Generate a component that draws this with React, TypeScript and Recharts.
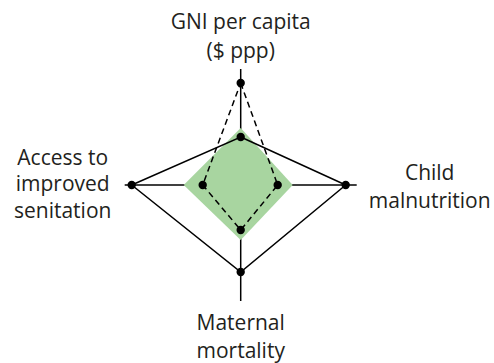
import React from "react";
import { RadarChart, Radar, PolarGrid, PolarAngleAxis, PolarRadiusAxis } from "recharts";

const categories = ["GNI per capita ($ ppp)", "Child malnutrition", "Maternal mortality", "Access to improved senitation"];
const labelLines = [["GNI per capita", "($ ppp)"], ["Child", "malnutrition"], ["Maternal", "mortality"], ["Access to", "improved", "senitation"]];
const outerSeries = [48, 105, 87, 109];
const dashedSeries = [102, 37, 45, 38];
const greenSeries = [57, 52, 55, 57];

const data = categories.map((c, i) => ({
  category: c,
  outer: outerSeries[i],
  dashed: dashedSeries[i],
  green: greenSeries[i],
}));

const labelOffsets = [
  { dx: 0, dys: [-40, -11] },
  { dx: 65, dys: [-13, 15] },
  { dx: 0, dys: [13, 41] },
  { dx: -54, dys: [-28, -2, 25] },
];

const Tick = (props: any) => {
  const { x, y, payload } = props;
  const idx = payload.index ?? categories.indexOf(payload.value);
  const lines = labelLines[idx];
  const off = labelOffsets[idx];
  return (
    <g>
      {lines.map((l, k) => (
        <text
          key={k}
          x={x + off.dx}
          y={y + off.dys[k]}
          textAnchor="middle"
          dominantBaseline="central"
          fontFamily="'Open Sans', sans-serif"
          fontSize={21}
          fill="#231f20"
        >
          {l}
        </text>
      ))}
    </g>
  );
};

const BlackDot = (props: any) => {
  const { cx, cy, key } = props;
  if (cx == null || cy == null) return null;
  return <circle key={key} cx={cx} cy={cy} r={4.2} fill="#000" />;
};

export default function App() {
  return (
    <div style={{ position: "absolute", left: 0, top: 0, background: "#fff" }}>
      <RadarChart width={494} height={363} data={data} cx={240.7} cy={185} outerRadius={116} startAngle={90} endAngle={-270}>
        <PolarGrid polarRadius={[]} stroke="#000" strokeWidth={1.5} gridType="polygon" />
        <PolarAngleAxis dataKey="category" tick={<Tick />} tickLine={false} axisLine={false} />
        <PolarRadiusAxis domain={[0, 116]} tick={false} axisLine={false} />
        <Radar dataKey="green" fill="#a8d5a0" fillOpacity={1} stroke="none" isAnimationActive={false} />
        <Radar dataKey="outer" fill="none" fillOpacity={0} stroke="#000" strokeWidth={1.5} dot={BlackDot} isAnimationActive={false} />
        <Radar dataKey="dashed" fill="none" fillOpacity={0} stroke="#000" strokeWidth={1.5} strokeDasharray="6 4" dot={BlackDot} isAnimationActive={false} />
      </RadarChart>
    </div>
  );
}
